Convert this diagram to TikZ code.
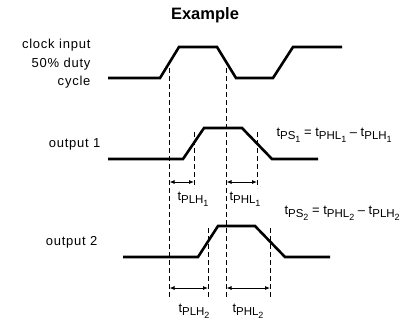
\documentclass[tikz,border=0pt]{standalone}
\usepackage{fontspec}
\setmainfont{Liberation Sans}
\usetikzlibrary{arrows.meta}
\newcommand\tdel[2]{t\raisebox{-0.5ex}{\fontsize{11.5}{11.5}\selectfont #1\raisebox{-0.45ex}{\fontsize{9}{9}\selectfont #2}}}

\begin{document}
\begin{tikzpicture}[x=1pt,y=-1pt,
  wave/.style={line width=2.6pt,line join=miter},
  guide/.style={line width=0.7pt,dash pattern=on 5pt off 3pt},
  meas/.style={line width=0.8pt,{Latex[length=5pt,width=4pt]}-{Latex[length=5pt,width=4pt]}},
  sig/.style={font=\fontsize{13}{18.5}\selectfont\addfontfeature{LetterSpace=6},align=right,anchor=east},
  lbl/.style={font=\fontsize{13}{15}\selectfont}]
\useasboundingbox (0,0) rectangle (415,325);
\node [font=\bfseries\fontsize{16.5}{18}\selectfont] (title) at (205,15) {Example};
\node [sig] (clk) at (94,64) {clock input\\50\% duty\\cycle};
\node [sig] (out1) at (104,144) {output 1};
\node [sig] (out2) at (101,242) {output 2};
\draw [wave] (108,78) -- (160,78) -- (179,47) -- (217,47) -- (236,78) -- (273,78) -- (293,47) -- (342,47);
\draw [wave] (108,159) -- (183,159) -- (204,128) -- (242,128) -- (272,159) -- (318,159);
\draw [wave] (123,257) -- (198,257) -- (218,226) -- (255,226) -- (285,257) -- (330,257);
\coordinate (ckr) at (169.5,68);
\coordinate (ckf) at (226.5,68);
\coordinate (o1r) at (194,132);
\coordinate (o1f) at (257,132);
\coordinate (o2r) at (208,228);
\coordinate (o2f) at (270,228);
\coordinate (low) at (0,298);
\coordinate (mid) at (0,188);
\draw [guide] (ckr) -- (ckr |- low);
\draw [guide] (ckf) -- (ckf |- low);
\draw [guide] (o1r) -- (o1r |- mid);
\draw [guide] (o1f) -- (o1f |- mid);
\draw [guide] (o2r) -- (o2r |- low);
\draw [guide] (o2f) -- (o2f |- low);
\draw [meas] (ckr |- 0,182) -- (o1r |- 0,182);
\draw [meas] (ckf |- 0,182) -- (o1f |- 0,182);
\draw [meas] (ckr |- 0,288) -- (o2r |- 0,288);
\draw [meas] (ckf |- 0,288) -- (o2f |- 0,288);
\node [lbl] (plh1) at (193,199) {\tdel{PLH}{1}};
\node [lbl] (phl1) at (245,199) {\tdel{PHL}{1}};
\node [lbl] (plh2) at (194,311) {\tdel{PLH}{2}};
\node [lbl] (phl2) at (248,311) {\tdel{PHL}{2}};
\node [lbl,anchor=west] (ps1) at (273,135) {\tdel{PS}{1} = \tdel{PHL}{1} -- \tdel{PLH}{1}};
\node [lbl,anchor=west] (ps2) at (281,213) {\tdel{PS}{2} = \tdel{PHL}{2} -- \tdel{PLH}{2}};
\end{tikzpicture}
\end{document}
